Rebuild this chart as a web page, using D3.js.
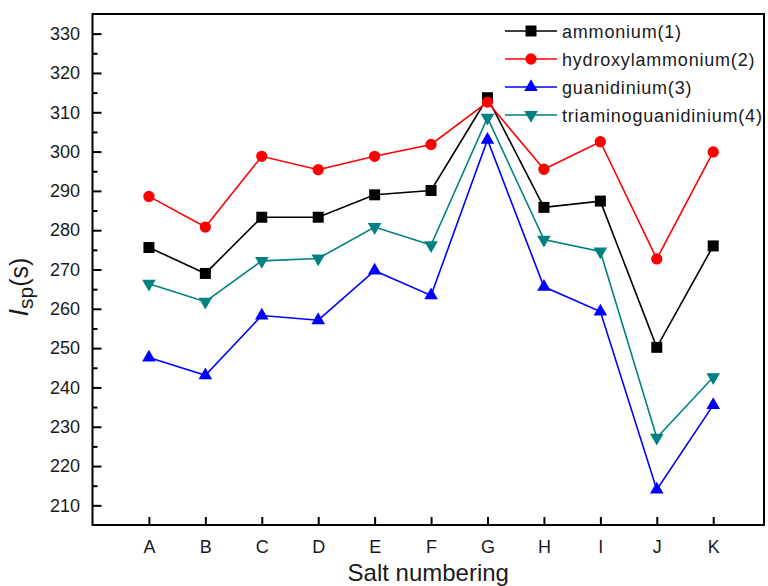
<!DOCTYPE html>
<html>
<head>
<meta charset="utf-8">
<script src="https://cdn.jsdelivr.net/npm/d3@7"></script>
<style>
  body { margin: 0; background: #fff; }
  text { font-family: "Liberation Sans", Arial, sans-serif; fill: #1a1a1a; }
</style>
</head>
<body>
<svg id="chart"></svg>
<script>
// salts A..K and specific impulse for each cation
var salts = ["A", "B", "C", "D", "E", "F", "G", "H", "I", "J", "K"];
var ammonium = [275.6, 269.0, 283.3, 283.3, 289.0, 290.1, 313.7, 285.8, 287.4, 250.2, 276.0];
var hydroxylammonium = [288.6, 280.8, 298.8, 295.4, 298.8, 301.8, 312.6, 295.5, 302.5, 272.7, 299.9];
var guanidinium = [247.6, 243.1, 258.3, 257.1, 269.7, 263.4, 303.0, 265.6, 259.3, 214.0, 235.5];
var triaminoguanidinium = [266.4, 261.8, 272.2, 272.8, 280.8, 276.2, 308.6, 277.6, 274.6, 227.2, 242.6];
var yTicks = [210, 220, 230, 240, 250, 260, 270, 280, 290, 300, 310, 320, 330];

var series = [
    {name: "ammonium(1)", values: ammonium, color: "#000000", shape: "square"},
    {name: "hydroxylammonium(2)", values: hydroxylammonium, color: "#ff0000", shape: "circle"},
    {name: "guanidinium(3)", values: guanidinium, color: "#0000ff", shape: "up"},
    {name: "triaminoguanidinium(4)", values: triaminoguanidinium, color: "#008080", shape: "down"}
];

var dimensions = {
    width: 768,
    height: 586,
    margin: {top: 14, bottom: 61, left: 92.5, right: 4}
};

var svg = d3.select("#chart")
    .attr("width", dimensions.width)
    .attr("height", dimensions.height);

var plotBottom = dimensions.height - dimensions.margin.bottom;
var plotRight = dimensions.width - dimensions.margin.right;

var xScale = d3.scaleLinear()
    .domain([0, 11.9])
    .range([dimensions.margin.left, plotRight]);

var yScale = d3.scaleLinear()
    .domain([205, 335])
    .range([plotBottom, dimensions.margin.top]);

// marker drawing
function symbolFor(shape) {
    if (shape == "square") return d3.symbol().type(d3.symbolSquare).size(121)();
    if (shape == "circle") return d3.symbol().type(d3.symbolCircle).size(100)();
    return d3.symbol().type(d3.symbolTriangle).size(80)();
}
function markerTransform(shape, x, y) {
    var t = "translate(" + x + "," + y + ")";
    if (shape == "down") t += " rotate(180)";
    return t;
}

// y axis, major + minor ticks pointing inward
var yAxis = svg.append("g")
    .attr("transform", `translate(${dimensions.margin.left},0)`)
    .call(d3.axisLeft(yScale).tickValues(yTicks).tickSizeInner(-9).tickSizeOuter(0).tickPadding(12.5));
yAxis.select(".domain").remove();
yAxis.selectAll("line").attr("stroke", "#000").attr("stroke-width", 2);
yAxis.selectAll("text").style("font-size", "18px");

var yMinor = svg.append("g")
    .attr("transform", `translate(${dimensions.margin.left},0)`)
    .call(d3.axisLeft(yScale).tickValues(d3.range(215, 330, 10)).tickSizeInner(-5).tickSizeOuter(0).tickFormat(""));
yMinor.select(".domain").remove();
yMinor.selectAll("line").attr("stroke", "#000").attr("stroke-width", 2);

// x axis
var xAxis = svg.append("g")
    .attr("transform", `translate(0,${plotBottom})`)
    .call(d3.axisBottom(xScale)
        .tickValues(d3.range(1, salts.length + 1))
        .tickFormat(d => salts[d - 1])
        .tickSizeInner(-8).tickSizeOuter(0).tickPadding(15));
xAxis.select(".domain").remove();
xAxis.selectAll("line").attr("stroke", "#000").attr("stroke-width", 2);
xAxis.selectAll("text").style("font-size", "18px");

// frame
svg.append("rect")
    .attr("x", dimensions.margin.left)
    .attr("y", dimensions.margin.top)
    .attr("width", plotRight - dimensions.margin.left)
    .attr("height", plotBottom - dimensions.margin.top)
    .attr("fill", "none")
    .attr("stroke", "#000")
    .attr("stroke-width", 2);

// lines and markers
var line = d3.line()
    .x((d, i) => xScale(i + 1))
    .y(d => yScale(d));

series.forEach(function(s) {
    svg.append("path")
        .datum(s.values)
        .attr("d", line)
        .attr("fill", "none")
        .attr("stroke", s.color)
        .attr("stroke-width", 1.6);

    svg.selectAll(null)
        .data(s.values)
        .enter()
        .append("path")
        .attr("d", symbolFor(s.shape))
        .attr("transform", (d, i) => markerTransform(s.shape, xScale(i + 1), yScale(d)))
        .attr("fill", s.color);
});

// legend
var legend = svg.append("g");
series.forEach(function(s, i) {
    var ly = 31 + i * 28;
    legend.append("line")
        .attr("x1", 505).attr("x2", 557)
        .attr("y1", ly).attr("y2", ly)
        .attr("stroke", s.color)
        .attr("stroke-width", 1.6);
    legend.append("path")
        .attr("d", symbolFor(s.shape))
        .attr("transform", markerTransform(s.shape, 531, ly))
        .attr("fill", s.color);
    legend.append("text")
        .attr("x", 562)
        .attr("y", ly + 6.5)
        .style("font-size", "18px")
        .style("letter-spacing", "0.8px")
        .text(s.name);
});

// axis titles
svg.append("text")
    .attr("x", (dimensions.margin.left + plotRight) / 2)
    .attr("y", 581)
    .style("text-anchor", "middle")
    .style("font-size", "24px")
    .text("Salt numbering");

var yTitle = svg.append("text")
    .attr("transform", "translate(28,287) rotate(-90)")
    .style("text-anchor", "middle")
    .style("font-size", "25px");
yTitle.append("tspan").style("font-style", "italic").style("font-size", "27px").text("I");
yTitle.append("tspan").attr("dy", 5).style("font-size", "21px").text("sp");
yTitle.append("tspan").attr("dy", -5).text("(s)");
</script>
</body>
</html>
